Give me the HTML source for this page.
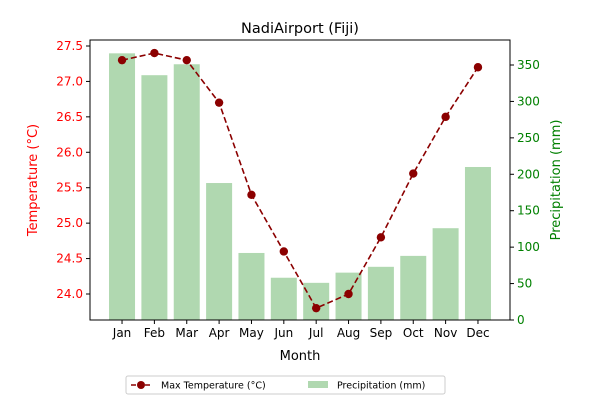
<!DOCTYPE html>
<html><head><meta charset="utf-8"><style>
body{margin:0;background:#fff;font-family:"Liberation Sans","DejaVu Sans",sans-serif;}
svg text{font-family:"DejaVu Sans","Liberation Sans",sans-serif;}
</style></head><body>
<svg id="c" width="600" height="400" xmlns="http://www.w3.org/2000/svg"></svg>
<script>
const months=["Jan","Feb","Mar","Apr","May","Jun","Jul","Aug","Sep","Oct","Nov","Dec"];
const maxTemp=[27.3,27.4,27.3,26.7,25.4,24.6,23.8,24.0,24.8,25.7,26.5,27.2];
const precip=[366,336,351,188,92,58,51,65,73,88,126,210];
const tempTicks=[24.0,24.5,25.0,25.5,26.0,26.5,27.0,27.5];
const precipTicks=[0,50,100,150,200,250,300,350];
const L=90,R=510,T=40,B=320;
const NS="http://www.w3.org/2000/svg";
const svg=document.getElementById('c');
const xs=i=>L+(i+0.99)*(R-L)/12.98;
const yT=v=>294-(v-24)*70.86;
const yP=v=>320-v*0.7286;
function el(tag,a,txt){const e=document.createElementNS(NS,tag);for(const k in a)e.setAttribute(k,a[k]);if(txt!==undefined)e.textContent=txt;svg.appendChild(e);return e;}
months.forEach((m,i)=>{
 const b=el('rect',{x:xs(i)-13,y:yP(precip[i]),width:26,height:320-yP(precip[i]),fill:'#b0d8b0'});
 
 
});
const pts=maxTemp.map((v,i)=>xs(i)+','+yT(v)).join(' ');
const ln=el('polyline',{points:pts,fill:'none',stroke:'#8b0000','stroke-width':1.6,'stroke-dasharray':'6,3'});


maxTemp.forEach((v,i)=>{
 const c=el('circle',{cx:xs(i),cy:yT(v),r:4.2,fill:'#8b0000'});
 
 
});
const fr=el('rect',{x:L,y:T,width:R-L,height:B-T,fill:'none',stroke:'#000','stroke-width':1});


months.forEach((m,i)=>{
 el('line',{x1:xs(i),x2:xs(i),y1:B,y2:B+4,stroke:'#000'});
 const t=el('text',{x:xs(i),y:B+17,'font-size':12,'text-anchor':'middle'},m);
 
 
});
tempTicks.forEach(v=>{
 el('line',{x1:L-4,x2:L,y1:yT(v),y2:yT(v),stroke:'#000'});
 const t=el('text',{x:L-7,y:yT(v)+4,'font-size':12,'text-anchor':'end',fill:'red'},v.toFixed(1));
 
 
});
precipTicks.forEach(v=>{
 el('line',{x1:R,x2:R+4,y1:yP(v),y2:yP(v),stroke:'#000'});
 const t=el('text',{x:R+7,y:yP(v)+4,'font-size':12,fill:'green'},v);
 
 
});
</script>
<svg width="600" height="400" style="position:absolute;left:0;top:0" xmlns="http://www.w3.org/2000/svg">
<text x="300" y="33" font-size="14.5" text-anchor="middle" font-family="DejaVu Sans,sans-serif">NadiAirport (Fiji)</text>
<text x="300" y="360" font-size="13" text-anchor="middle" font-family="DejaVu Sans,sans-serif">Month</text>
<text transform="translate(37,180) rotate(-90)" font-size="13" fill="red" text-anchor="middle" font-family="DejaVu Sans,sans-serif">Temperature (°C)</text>
<text transform="translate(560,180) rotate(-90)" font-size="13" fill="green" text-anchor="middle" font-family="DejaVu Sans,sans-serif">Precipitation (mm)</text>
<g font-family="DejaVu Sans,sans-serif" font-size="9.5">
<rect x="126" y="376" width="319" height="18" rx="2" fill="#fff" stroke="#ccc"/>
<line x1="131" x2="151" y1="385" y2="385" stroke="#8b0000" stroke-width="1.6" stroke-dasharray="5,2"/>
<circle cx="141" cy="385" r="4" fill="#8b0000"/>
<text x="161" y="388.5">Max Temperature (°C)</text>
<rect x="308" y="381" width="20" height="7" fill="#b0d8b0"/>
<text x="337" y="388.5">Precipitation (mm)</text>
</g>
</svg>
</body></html>
